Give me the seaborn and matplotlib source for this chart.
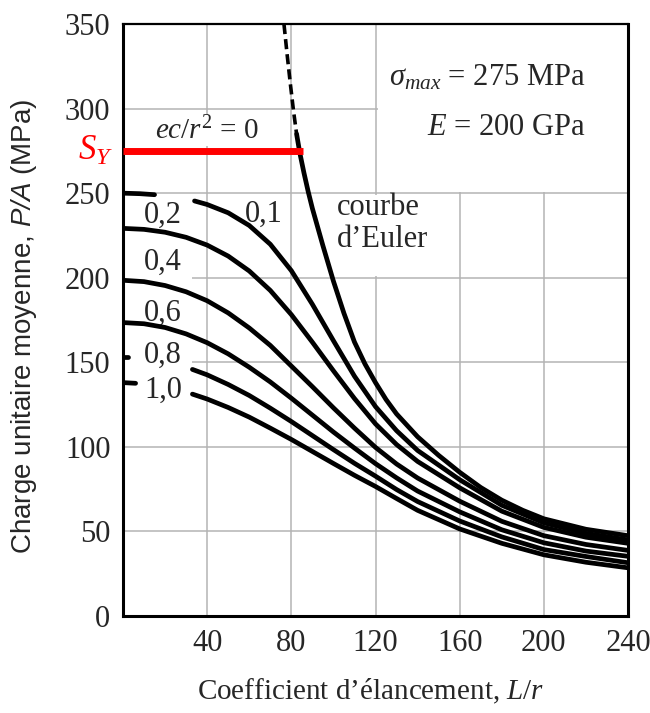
import pandas as pd
import matplotlib
matplotlib.use('Agg')
import matplotlib.pyplot as plt
from matplotlib.patches import Rectangle
import seaborn as sns

# Secant-formula column curves (L/r -> P/A in MPa)
lr_full = [0, 10, 20, 30, 40, 50, 60, 70, 80, 90, 100, 110, 120, 130, 140, 160, 180, 200, 220, 240]
lr_from33 = [33, 40, 50, 60, 70, 80, 90, 100, 110, 120, 130, 140, 160, 180, 200, 220, 240]
lr_from34 = [34, 40, 50, 60, 70, 80, 90, 100, 110, 120, 130, 140, 160, 180, 200, 220, 240]

e01_stub_lr = [0, 8, 15]
e01_stub_pa = [250, 249.7, 249.1]
e01_pa = [245.4, 243.3, 238.4, 230.9, 219.8, 204.2, 184.3, 162.8, 141.8, 123.8,
          109.6, 97.9, 80.6, 65.5, 55.1, 48.9, 45.0]
e02_pa = [229.2, 228.6, 226.9, 223.9, 219.3, 212.8, 204.0, 192.5, 178.2, 161.9,
          145.0, 128.6, 113.6, 101.4, 91.4, 75.8, 62.0, 52.4, 46.6, 43.0]
e04_pa = [198.5, 197.7, 195.4, 191.7, 186.4, 179.2, 170.3, 160.0, 147.8, 135.6,
          123.1, 111.1, 99.7, 89.9, 81.6, 67.9, 56.0, 47.5, 42.3, 38.8]
e06_pa = [173.5, 172.8, 170.6, 166.8, 161.6, 155.0, 147.1, 138.4, 128.8, 118.8,
          108.8, 99.3, 90.1, 81.7, 73.9, 61.6, 51.0, 43.3, 38.4, 35.3]
e08_stub_lr = [0, 2.5]
e08_stub_pa = [153, 153]
e08_pa = [145.8, 142.6, 136.9, 130.4, 122.9, 115.0, 106.7, 98.4, 90.3, 82.7,
          74.8, 67.7, 56.2, 46.8, 39.3, 35.2, 31.5]
e10_stub_lr = [0, 6]
e10_stub_pa = [138, 137.6]
e10_pa = [131.2, 128.3, 123.3, 117.6, 111.1, 104.4, 97.3, 90.2, 83.2, 76.6,
          69.5, 62.5, 51.5, 43.0, 36.2, 31.8, 28.5]

# Euler curve (dashed above the yield stress)
euler_dash_lr = [76.5, 78, 79.5, 81, 82.5]
euler_dash_pa = [350, 332, 315, 299, 285]
euler_lr = [82.5, 84, 86, 88, 90, 95, 100, 105, 110, 115, 120, 125, 130, 140, 150, 160,
            170, 180, 190, 200, 220, 240]
euler_pa = [285, 274, 262, 251, 241, 219, 198, 179, 162, 149, 138, 128, 119.5, 106, 95, 85,
            76, 68.5, 62.5, 57.5, 51.3, 47.5]

# yield stress line
sy_lr = [0, 85.5]
sy_pa = [275, 275]

curve_labels = ['0,2', '0,1', '0,4', '0,6', '0,8', '1,0']
x_ticks = [40, 80, 120, 160, 200, 240]
y_ticks = [0, 50, 100, 150, 200, 250, 300, 350]

segments = {
    '0.1a': (e01_stub_lr, e01_stub_pa),
    '0.1b': (lr_from34, e01_pa),
    '0.2': (lr_full, e02_pa),
    '0.4': (lr_full, e04_pa),
    '0.6': (lr_full, e06_pa),
    '0.8a': (e08_stub_lr, e08_stub_pa),
    '0.8b': (lr_from33, e08_pa),
    '1.0a': (e10_stub_lr, e10_stub_pa),
    '1.0b': (lr_from33, e10_pa),
    'euler': (euler_lr, euler_pa),
}
df = pd.concat([pd.DataFrame({'seg': k, 'lr': v[0], 'pa': v[1]}) for k, v in segments.items()],
               ignore_index=True)

sns.set_style('white')
plt.rcParams['font.family'] = ['Liberation Serif', 'DejaVu Serif']
plt.rcParams['mathtext.fontset'] = 'custom'
plt.rcParams['mathtext.rm'] = 'Liberation Serif'
plt.rcParams['mathtext.it'] = 'Liberation Serif:italic'
plt.rcParams['mathtext.sf'] = 'Liberation Sans:italic'

fig, ax = plt.subplots(figsize=(6.5, 7.13), dpi=100)
fig.subplots_adjust(left=0.1892, right=0.9662, bottom=0.136, top=0.9663)

ax.set_xlim(0, 240)
ax.set_ylim(0, 350)
ax.set_xticks(x_ticks)
ax.set_yticks(y_ticks)
ax.set_axisbelow(True)
ax.grid(True, color='#b4b4b4', lw=1.1)

# white areas that hide the grid behind the annotations
for (x0, y0, w, h) in [(121, 250.6, 119, 99.4), (100, 201, 40, 48), (0.5, 195, 32.5, 10), (0.5, 145, 32.5, 10)]:
    ax.add_patch(Rectangle((x0, y0), w, h, fc='white', ec='none', zorder=1))

sns.lineplot(data=df, x='lr', y='pa', units='seg', estimator=None, sort=False,
             color='black', lw=3.4, ax=ax, zorder=3)
sns.lineplot(x=euler_dash_lr, y=euler_dash_pa, sort=False, color='black', lw=2.6,
             linestyle=(0, (2.8, 1.4)), ax=ax, zorder=3)
sns.lineplot(x=sy_lr, y=sy_pa, sort=False, color='red', lw=5, ax=ax, zorder=4,
             solid_capstyle='butt')

for s in ax.spines.values():
    s.set_linewidth(2.2)
    s.set_color('black')
ax.spines['top'].set_linewidth(1.6)

ax.tick_params(axis='both', direction='in', length=4, width=2, labelsize=22, color='black')
ax.tick_params(axis='y', pad=9)
ax.tick_params(axis='x', pad=9)

ax.set_xlabel('Coefficient d’élancement, $L/r$', fontsize=21)
ax.xaxis.set_label_coords(0.49, -0.103)
ax.set_ylabel('Charge unitaire moyenne, $\\mathsf{P/A}$ (MPa)', fontsize=20,
              family=['Liberation Sans', 'DejaVu Sans'])
ax.yaxis.set_label_coords(-0.166, 0.49)

# curve labels
label_pos = [(19, 236.7), (66.7, 237.7), (19, 209), (19, 178.7), (19, 154), (19, 133.4)]
for lab, (x, y) in zip(curve_labels, label_pos):
    ax.text(x, y, lab, fontsize=22, ha='center', va='center', zorder=2)

ax.text(39.8, 287, '$ec/r^2$ = 0', fontsize=21, ha='center', va='center', zorder=2,
        bbox=dict(fc='white', ec='none', pad=1))
ax.text(-4.5, 275, '$S_Y$', fontsize=25, color='red', ha='right', va='center')
ax.text(220, 318.5, r'$\sigma_{max}$ = 275 MPa', fontsize=22, ha='right', va='center')
ax.text(220, 289, '$E$ = 200 GPa', fontsize=22, ha='right', va='center')
ax.text(101.7, 232, 'courbe\nd’Euler', fontsize=22, ha='left', va='center', linespacing=1.15)

fig.savefig('out.png', dpi=100)
